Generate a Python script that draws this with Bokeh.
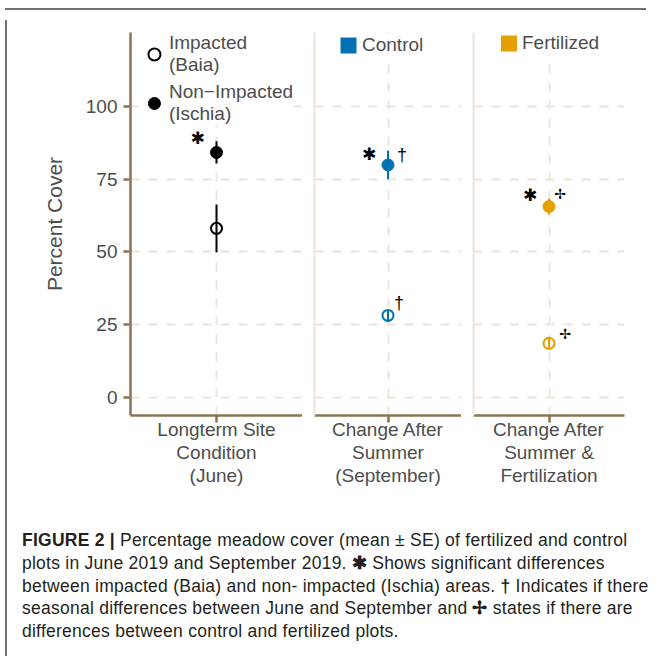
from bokeh.plotting import figure
from bokeh.models import FactorRange, Range1d, FixedTicker, Legend, LegendItem, Div, Spacer
from bokeh.layouts import row, column
from bokeh.embed import file_html
from bokeh.resources import INLINE
from bokeh.core.properties import value

# ---------------- data ----------------
panels = ["Longterm Site\nCondition\n(June)",
          "Change After\nSummer\n(September)",
          "Change After\nSummer &\nFertilization"]
impacted_mean = [58.1, 28.2, 18.6]      # Baia
impacted_se = [8.2, 1.6, 1.8]
nonimpacted_mean = [84.2, 79.9, 65.6]   # Ischia
nonimpacted_se = [3.8, 4.9, 2.7]
panel_colors = ["black", "#0072B2", "#E69F00"]
y_ticks = [0, 25, 50, 75, 100]
star_y = [89.2, 83.7, 69.5]             # * : impacted vs non-impacted
dagger_y = [83.2, 32.3]                 # † : June vs September (panel 2)
cross_y = [69.8, 21.9]                  # ✢ : control vs fertilized (panel 3)

# ---------------- style ----------------
GRID = "#EEE3D9"
AXIS = "#8B7355"
TXT = "#4D4D4D"
FONT = "Liberation Sans"
FRAME = "#707070"

y_range = Range1d(-6.2, 125.4)


def make_panel(i, width, left, right):
    cat = panels[i]
    col = panel_colors[i]
    p = figure(x_range=FactorRange(factors=[cat]), y_range=y_range,
               width=width, height=482, min_border_left=left, min_border_right=right,
               min_border_top=17, min_border_bottom=82,
               toolbar_location=None, output_backend="svg",
               outline_line_color=None, background_fill_color="white",
               border_fill_color="white")
    # grids
    p.xgrid.grid_line_color = GRID
    p.xgrid.grid_line_dash = "9 9"
    p.xgrid.grid_line_width = 2
    p.ygrid.ticker = FixedTicker(ticks=y_ticks)
    p.ygrid.grid_line_color = GRID
    p.ygrid.grid_line_dash = "9 9"
    p.ygrid.grid_line_width = 2
    # x axis
    xa = p.xaxis[0]
    xa.axis_line_color = AXIS
    xa.axis_line_width = 2.5
    xa.major_tick_line_color = AXIS
    xa.major_tick_line_width = 2.5
    xa.major_tick_in = 0
    xa.major_tick_out = 7
    xa.major_label_standoff = -4
    xa.major_label_text_font = FONT
    xa.major_label_text_font_size = "19px"
    xa.major_label_text_color = TXT
    xa.major_label_text_line_height = 1.1
    # y axis
    ya = p.yaxis[0]
    ya.minor_tick_line_color = None
    if i == 0:
        ya.ticker = FixedTicker(ticks=y_ticks)
        ya.axis_line_color = AXIS
        ya.axis_line_width = 2.5
        ya.major_tick_line_color = AXIS
        ya.major_tick_line_width = 2.5
        ya.major_tick_in = 0
        ya.major_tick_out = 7
        ya.major_label_standoff = 6
        ya.major_label_text_font = FONT
        ya.major_label_text_font_size = "19px"
        ya.major_label_text_color = TXT
        ya.axis_label = "Percent Cover"
        ya.axis_label_text_font = FONT
        ya.axis_label_text_font_size = "21px"
        ya.axis_label_text_font_style = "normal"
        ya.axis_label_text_color = TXT
        ya.axis_label_standoff = 17
    else:
        ya.ticker = FixedTicker(ticks=[])
        ya.axis_line_color = GRID
        ya.axis_line_width = 2
        ya.major_tick_line_color = None
        ya.major_tick_out = 0
        ya.major_tick_in = 0
        ya.major_label_standoff = 0

    # error bars
    lo = [impacted_mean[i] - impacted_se[i], nonimpacted_mean[i] - nonimpacted_se[i]]
    hi = [impacted_mean[i] + impacted_se[i], nonimpacted_mean[i] + nonimpacted_se[i]]
    p.segment(x0=[cat, cat], y0=lo, x1=[cat, cat], y1=hi, line_color=col, line_width=2)
    r_open = p.scatter(x=[cat], y=[impacted_mean[i]], size=11, marker="circle",
                       fill_color=None, line_color=col, line_width=2)
    r_fill = p.scatter(x=[cat], y=[nonimpacted_mean[i]], size=12, marker="circle",
                       fill_color=col, line_color=col, line_width=1)

    # significance star
    p.text(x=[cat], y=[star_y[i]], text=["\u2731"], text_font=value("DejaVu Sans"),
           text_font_size="17px", text_align="center", text_baseline="middle",
           x_offset=-19, text_color="black")
    return p, r_open, r_fill


p1, o1, f1 = make_panel(0, 290, 118, 0)
p2, o2, f2 = make_panel(1, 159, 12, 0)
p3, o3, f3 = make_panel(2, 190, 12, 27)

# daggers and crosses
p2.text(x=[panels[1]] * 2, y=dagger_y, text=["\u2020"] * 2, text_font=value(FONT),
        text_font_size="18px", text_align="center", text_baseline="middle",
        x_offset=[14, 11], text_color="black")
p3.text(x=[panels[2]] * 2, y=cross_y, text=["\u2722"] * 2, text_font=value("DejaVu Sans"),
        text_font_size="14px", text_align="center", text_baseline="middle",
        x_offset=[11, 16], text_color="black")

# legends
leg1 = Legend(items=[LegendItem(label="Impacted\n(Baia)", renderers=[o1]),
                     LegendItem(label="Non\u2212Impacted\n(Ischia)", renderers=[f1])],
              location="top", margin=0, padding=0, spacing=5,
              glyph_width=30, glyph_height=30, label_standoff=0,
              label_text_font=FONT, label_text_font_size="19px", label_text_color=TXT,
              label_text_line_height=1.05,
              background_fill_color="white", background_fill_alpha=1,
              border_line_color=None)
p1.add_layout(leg1)

for i, p, lab, loc in [(1, p2, "Control", (24, 359)), (2, p3, "Fertilized", "top")]:
    cat = panels[i]
    key = p.quad(left=[cat], right=[cat], bottom=[impacted_mean[i]], top=[nonimpacted_mean[i]],
                 fill_color=panel_colors[i], line_color=None, visible=False)
    lg = Legend(items=[LegendItem(label=lab, renderers=[key])],
                location=loc, margin=0, padding=5,
                glyph_width=20, glyph_height=20, label_standoff=4,
                label_text_font=FONT, label_text_font_size="19px", label_text_color=TXT,
                background_fill_color="white", background_fill_alpha=1,
                border_line_color=None)
    p.add_layout(lg)

caption_html = (
    "<div style=\"margin-top:27px;margin-left:5px;font-family:'Liberation Sans';"
    "font-size:17.5px;letter-spacing:0.25px;line-height:22.8px;color:#231F20;white-space:nowrap;\">"
    "<b>FIGURE 2 |</b> Percentage meadow cover (mean \u00b1 SE) of fertilized and control<br>"
    "plots in June 2019 and September 2019. <b>\u2731</b> Shows significant differences<br>"
    "between impacted (Baia) and non- impacted (Ischia) areas. <b>\u2020</b> Indicates if there<br>"
    "seasonal differences between June and September and <b>\u2722</b> states if there are<br>"
    "differences between control and fertilized plots.</div>"
)
cap = Div(text=caption_html, width=639, height=154)

top_line = Div(text="", width=641, height=2, styles={"background-color": FRAME})
left_line = Div(text="", width=2, height=636, styles={"background-color": FRAME})

layout = column(Spacer(width=641, height=3), top_line,
                row(left_line, column(row(p1, p2, p3), cap)))

open("out.html", "w").write(file_html(layout, INLINE))
